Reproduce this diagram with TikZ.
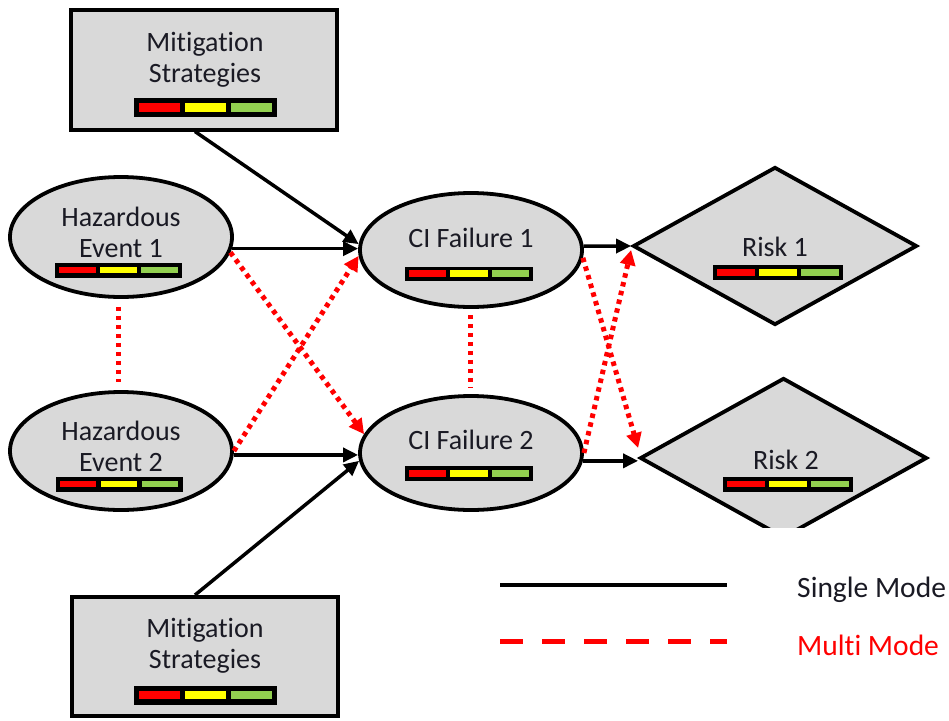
\documentclass[tikz,border=0pt]{standalone}
\usepackage{fontspec}
\setmainfont{Carlito}[Ligatures=NoCommon]
\usetikzlibrary{arrows.meta,shapes.geometric}
\definecolor{shade}{HTML}{D9D9D9}
\definecolor{sgreen}{HTML}{92D050}
\definecolor{syellow}{HTML}{FFFF00}
\definecolor{sred}{HTML}{FF0000}
\definecolor{txt}{HTML}{1A1A24}
\newcommand\sbar[4]{%
  \pgfmathsetmacro\bb{0.28*#4}%
  \pgfmathsetmacro\sw{(#3-4*\bb)/3}%
  \fill[black] ({#1-#3/2},{#2-#4/2}) rectangle ({#1+#3/2},{#2+#4/2});
  \fill[sred] ({#1-#3/2+\bb},{#2-#4/2+\bb}) rectangle ++(\sw,{#4-2*\bb});
  \fill[syellow] ({#1-#3/2+2*\bb+\sw},{#2-#4/2+\bb}) rectangle ++(\sw,{#4-2*\bb});
  \fill[sgreen] ({#1-#3/2+3*\bb+2*\sw},{#2-#4/2+\bb}) rectangle ++(\sw,{#4-2*\bb});
}
\tikzset{
  mbox/.style={draw=black,line width=4pt,fill=shade,minimum width=266pt,minimum height=120pt,inner sep=0pt},
  evt/.style={ellipse,draw=black,line width=3.8pt,fill=shade,minimum width=222pt,inner sep=0pt},
  rsk/.style={diamond,draw=black,line width=3.8pt,fill=shade,inner sep=0pt,aspect=1.8},
  lbl/.style={text=txt,font=\fontsize{28}{31}\selectfont,align=center,inner sep=0pt},
  single/.style={draw=black,line width=3.5pt,-{Triangle[length=15pt,width=14pt]}},
  multi/.style={draw=sred,line width=5pt,dash pattern=on 4.5pt off 4.5pt,-{Triangle[length=15pt,width=15pt,fill=sred]}},
  multiline/.style={draw=sred,line width=5pt,dash pattern=on 4.5pt off 4.5pt},
}
\begin{document}
\begin{tikzpicture}[x=1pt,y=-1pt]
\useasboundingbox[fill=white] (0,0) rectangle (949,720);
% nodes
\node[mbox] (mt) at (204,69.5) {};
\node[mbox,minimum height=119pt] (mb) at (205,656.5) {};
\node[evt,minimum height=120pt] (he1) at (121,237) {};
\node[evt,minimum height=118pt] (he2) at (121,451) {};
\node[evt,minimum height=114pt] (ci1) at (471,250) {};
\node[evt,minimum height=114pt] (ci2) at (471,453) {};
\node[rsk,minimum width=284pt,minimum height=158pt] (r1) at (775,246) {};
\begin{scope}
\clip (560,360) rectangle (949,527);
\node[rsk,minimum width=287pt,minimum height=160pt] (r2) at (783.5,458) {};
\end{scope}
% labels
\node[lbl] (tmt) at (205,60) {Mitigation\\Strategies};
\node[lbl] (tmb) at (205,646) {Mitigation\\Strategies};
\node[lbl] (the1) at (121,232) {Hazardous\\Event 1};
\node[lbl] (the2) at (121,446) {Hazardous\\Event 2};
\node[lbl] (tci1) at (471,238) {CI Failure 1};
\node[lbl] (tci2) at (471,440) {CI Failure 2};
\node[lbl] (tr1) at (775,247) {Risk 1};
\node[lbl] (tr2) at (786,460) {Risk 2};
% status bars
\sbar{205.5}{107.5}{143}{19}
\sbar{205.5}{695}{143}{19}
\sbar{118.5}{270}{127}{15}
\sbar{119}{484}{127}{15}
\sbar{469}{273.5}{128}{14}
\sbar{469}{473.5}{128}{15}
\sbar{778}{272.5}{130}{15}
\sbar{788}{484}{130}{15}
% single mode connectors
\draw[single] ([xshift=-9pt]mt.south) -- (ci1.177);
\draw[single] (he1.-6) -- (he1.-6 -| ci1.west);
\draw[single] (he2.-2) -- (he2.-2 -| ci2.west);
\draw[single] ([xshift=-10pt]mb.north) -- (ci2.184);
\draw[single] (ci1.2) -- (r1.west);
\draw[single] (ci2.-4) -- (ci2.-4 -| r2.west);
% multi mode connectors
\draw[multi] (he1.-8) -- (ci2.170);
\draw[multi] (he2.east) -- (ci1.183);
\draw[multiline] ([xshift=-3pt,yshift=-8pt]he1.south) -- ([xshift=-3pt,yshift=8pt]he2.north);
\draw[multiline] ([xshift=-1pt,yshift=-6pt]ci1.south) -- ([xshift=-1pt,yshift=6pt]ci2.north);
\draw[multi] (ci1.-4) -- ([yshift=10pt]r2.west);
\draw[multi] (ci2.east) -- ([yshift=-4pt]r1.west);
% legend
\coordinate (l1a) at (500,585);
\coordinate (l1b) at (727,585);
\coordinate (l2a) at (500,641);
\coordinate (l2b) at (727,641);
\draw[black,line width=4pt] (l1a) -- (l1b);
\draw[sred,line width=5pt,dash pattern=on 23pt off 19pt] (l2a) -- (l2b);
\node[lbl,anchor=west,text=txt,font=\fontsize{29.5}{31}\selectfont] (ls) at (797,590) {Single Mode};
\node[lbl,anchor=west,text=sred,font=\fontsize{29.5}{31}\selectfont] (lm) at (797,645) {Multi Mode};
\end{tikzpicture}
\end{document}
